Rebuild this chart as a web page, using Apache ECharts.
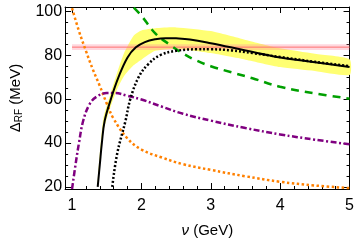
<!DOCTYPE html>
<html>
<head>
<meta charset="utf-8">
<script src="https://cdn.jsdelivr.net/npm/echarts@6/dist/echarts.min.js"></script>
<style>html,body{margin:0;padding:0;background:#fff}#c{width:357px;height:243px}</style>
</head>
<body>
<div id="c"></div>
<script>
// ---- data (nu in GeV, Delta_RF in MeV) ----
var fullNu    = [1.37, 1.40, 1.43, 1.47, 1.56, 1.67, 1.80, 1.92, 2.05, 2.2, 2.35, 2.5, 2.7, 3.0, 3.5, 4.0, 4.5, 5.0];
var fullDelta = [20,   30,   40,   50,   60,   70,   79,   83.6, 86,   87.3, 87.8, 87.7, 87.2, 85.5, 82.2, 79, 76.8, 74.6];

var bandNu    = [1.37, 1.45, 1.55, 1.65, 1.75, 1.89, 2.0,  2.2,  2.5,  3.0,  3.5,  4.0,  4.5,  5.0];
var bandUpper = [23,   51,   62,   72,   81,   89,   91.3, 92.3, 92.7, 91,   87,   83.2, 80.7, 78.2];
var bandLower = [20,   45,   56,   64.5, 70.5, 75.5, 78,   82,   83,   81,   78,   74.6, 72.8, 71];

var dotNu    = [1.58, 1.65, 1.77, 1.84, 1.96, 2.1, 2.27, 2.5, 2.8,  3.0,  3.3,  3.6, 4.0,  4.5, 5.0];
var dotDelta = [20,   35,   50,   60,   70,   76,  80,   82,  82.7, 82.7, 82.2, 81,  79.2, 77,  75];

var greenNu    = [1.89,  2.0, 2.2, 2.4, 2.6,  2.8,  3.0, 3.3,  3.6,  4.0,  4.5,  5.0];
var greenDelta = [101.7, 98,  90,  85,  80.8, 77.5, 75,  72.2, 69.5, 65.6, 62.6, 60.2];

var orangeNu    = [1.0,   1.1, 1.2, 1.3,  1.4, 1.5, 1.6, 1.8, 2.0, 2.3,  2.6,  3.0,  3.5,  4.0,  4.5,  5.0];
var orangeDelta = [101.5, 91,  82,  73.5, 66,  58,  51,  42,  37,  33.3, 30.3, 27.7, 24.8, 22.3, 20.6, 19.4];

var purpleNu    = [1.0, 1.05, 1.1, 1.16, 1.25, 1.35, 1.5,  1.6,  1.8,  2.0,  2.3,  2.6,  3.0,  3.5,  4.0,  4.5,  5.0];
var purpleDelta = [19,  30,   40,  50,   57.5, 61,   62.8, 62.8, 61.5, 59.8, 56.5, 53.3, 50.2, 46.8, 43.9, 41.5, 39.4];

var expNu = [1.0, 5.0];
var expDelta = 83.7;
var expHalfWidth = 1.3;

var xMajor = [1, 2, 3, 4, 5];
var xMinor = [1.2, 1.4, 1.6, 1.8, 2.2, 2.4, 2.6, 2.8, 3.2, 3.4, 3.6, 3.8, 4.2, 4.4, 4.6, 4.8];
var yMajor = [20, 40, 60, 80, 100];
var yMinor = [25, 30, 35, 45, 50, 55, 65, 70, 75, 85, 90, 95];

function pairs(xs, ys) { return xs.map(function (x, i) { return [x, ys[i]]; }); }

var FONT = '"Liberation Sans", Arial, sans-serif';
var XMIN = 0.9, XMAX = 5, YMIN = 19, YMAX = 102;

function xAx(pos, ticks, len, labels, line) {
  return {
    type: 'value', position: pos, min: XMIN, max: XMAX,
    axisLine: { show: line, onZero: false, lineStyle: { color: '#000', width: 1 } },
    axisTick: { show: true, inside: true, length: len, customValues: ticks, lineStyle: { color: '#000', width: 1 } },
    axisLabel: labels ? { show: true, customValues: ticks, color: '#000', fontSize: 16, fontFamily: FONT, margin: 9 } : { show: false },
    splitLine: { show: false }
  };
}
function yAx(pos, ticks, len, labels, line) {
  return {
    type: 'value', position: pos, min: YMIN, max: YMAX,
    axisLine: { show: line, onZero: false, lineStyle: { color: '#000', width: 1 } },
    axisTick: { show: true, inside: true, length: len, customValues: ticks, lineStyle: { color: '#000', width: 1 } },
    axisLabel: labels ? { show: true, customValues: ticks, color: '#000', fontSize: 16, fontFamily: FONT, margin: 3 } : { show: false },
    splitLine: { show: false }
  };
}

var xAxes = [xAx('bottom', xMajor, 6, true, true), xAx('bottom', xMinor, 3, false, false),
             xAx('top', xMajor, 6, false, true), xAx('top', xMinor, 3, false, false)];
xAxes[0].name = '{i|ν} (GeV)';
xAxes[0].nameLocation = 'middle';
xAxes[0].nameGap = 34;
xAxes[0].nameTextStyle = { color: '#000', fontSize: 15, fontFamily: FONT, rich: { i: { fontStyle: 'italic', fontSize: 15, fontFamily: FONT, color: '#000' } } };

var yAxes = [yAx('left', yMajor, 6, true, true), yAx('left', yMinor, 3, false, false),
             yAx('right', yMajor, 6, false, true), yAx('right', yMinor, 3, false, false)];
yAxes[0].name = 'Δ{s|RF} (MeV)';
yAxes[0].nameLocation = 'middle';
yAxes[0].nameGap = 39;
yAxes[0].nameTextStyle = { color: '#000', fontSize: 15, fontFamily: FONT, rich: { s: { fontSize: 10, fontFamily: FONT, color: '#000', padding: [8, 0, 0, 0] } } };

// band polygon drawn through the axes' scales
function bandSeries(xs, ups, lows, color, opacity, z, smooth) {
  return {
    type: 'custom', data: [0], z: z, silent: true,
    renderItem: function (params, api) {
      var pts = [];
      for (var i = 0; i < xs.length; i++) pts.push(api.coord([xs[i], ups[i]]));
      for (var j = xs.length - 1; j >= 0; j--) pts.push(api.coord([xs[j], lows[j]]));
      return { type: 'polygon', shape: { points: pts, smooth: smooth }, style: { fill: color, opacity: opacity } };
    }
  };
}

var chart = echarts.init(document.getElementById('c'), null, { renderer: 'canvas' });
chart.setOption({
  animation: false,
  backgroundColor: '#fff',
  grid: { left: 60, right: 6, top: 7, bottom: 53, containLabel: false },
  xAxis: xAxes,
  yAxis: yAxes,
  series: [
    bandSeries(bandNu, bandUpper, bandLower, '#ffff73', 1, 1, 0.2),
    bandSeries(expNu, expNu.map(function () { return expDelta + expHalfWidth; }),
               expNu.map(function () { return expDelta - expHalfWidth; }), '#ff8ca0', 0.35, 2, 0),
    { type: 'line', name: 'exp', data: pairs(expNu, expNu.map(function () { return expDelta; })), symbol: 'none',
      lineStyle: { color: '#ff7070', width: 1 }, z: 3 },
    { type: 'line', name: 'orange', data: pairs(orangeNu, orangeDelta), symbol: 'none', smooth: 0.4,
      lineStyle: { color: '#ff8000', width: 2.5, type: [2.5, 2.5], cap: 'butt' }, z: 4 },
    { type: 'line', name: 'purple', data: pairs(purpleNu, purpleDelta), symbol: 'none', smooth: 0.4,
      lineStyle: { color: '#800080', width: 2.5, type: [6, 2.5, 2, 2.5], cap: 'butt' }, z: 4 },
    { type: 'line', name: 'green', data: pairs(greenNu, greenDelta), symbol: 'none', smooth: 0.4,
      lineStyle: { color: '#00a000', width: 2.5, type: [8, 6], cap: 'butt' }, z: 4 },
    { type: 'line', name: 'full', data: pairs(fullNu, fullDelta), symbol: 'none', smooth: 0.4,
      lineStyle: { color: '#000', width: 2 }, z: 5 },
    { type: 'line', name: 'dotted', data: pairs(dotNu, dotDelta), symbol: 'none', smooth: 0.4,
      lineStyle: { color: '#000', width: 2.5, type: [2, 2], cap: 'butt' }, z: 6 }
  ]
});
</script>
</body>
</html>
